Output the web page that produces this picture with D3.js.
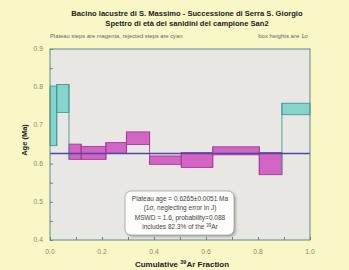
<!DOCTYPE html>
<html lang="en">
<head>
<meta charset="utf-8">
<script src="https://cdn.jsdelivr.net/npm/d3@7"></script>
<style>
  body { margin: 0; background: #f9f7c6; }
  svg { display: block; font-family: "Liberation Sans", Arial, sans-serif; }
</style>
</head>
<body>
<div id="chart"></div>
<script>
// step boundaries (cumulative 39Ar fraction) and 1 sigma box limits (Ma)
const stepEdges = [0, 0.026, 0.073, 0.120, 0.215, 0.294, 0.383, 0.505, 0.626, 0.805, 0.892, 1.0];
const ageHigh = [0.803, 0.807, 0.651, 0.645, 0.655, 0.683, 0.620, 0.629, 0.644, 0.629, 0.758];
const ageLow  = [0.647, 0.734, 0.611, 0.611, 0.627, 0.650, 0.598, 0.590, 0.623, 0.571, 0.728];
const inPlateau = [false, false, true, true, true, true, true, true, true, true, false];
const plateauAge = 0.6265;
const xTickLabels = [0, 0.2, 0.4, 0.6, 0.8, 1.0];
const yTickLabels = [0.4, 0.5, 0.6, 0.7, 0.8, 0.9];
const infoLines = [
  "Plateau age = 0.6265\u00b10.0051 Ma",
  "(1\u03c3, neglecting error in J)",
  "MSWD = 1.6, probability=0.088",
  "includes 82.3% of the "
];

const w = 349, h = 270;
const pLeft = 50, pRight = 310, pTop = 49, pBottom = 240;

const svg = d3.select("#chart").append("svg")
  .attr("width", w)
  .attr("height", h);

const x = d3.scaleLinear().domain([0, 1]).range([pLeft, pRight]);
const y = d3.scaleLinear().domain([0.4, 0.9]).range([pBottom, pTop]);

// titles
svg.append("text")
  .attr("x", 187).attr("y", 16)
  .attr("text-anchor", "middle")
  .style("font-size", "7.6px").style("font-weight", "bold").attr("fill", "#222")
  .text("Bacino lacustre di S. Massimo - Successione di Serra S. Giorgio");
svg.append("text")
  .attr("x", 187).attr("y", 26)
  .attr("text-anchor", "middle")
  .style("font-size", "7.6px").style("font-weight", "bold").attr("fill", "#222")
  .text("Spettro di età dei sanidini del campione San2");
svg.append("text")
  .attr("x", 50).attr("y", 38)
  .style("font-size", "5.8px").attr("fill", "#666")
  .text("Plateau steps are magenta, rejected steps are cyan");
svg.append("text")
  .attr("x", 308).attr("y", 38)
  .attr("text-anchor", "end")
  .style("font-size", "6px").attr("fill", "#666")
  .text("box heights are 1\u03c3");

// plot area
svg.append("rect")
  .attr("x", pLeft).attr("y", pTop)
  .attr("width", pRight - pLeft).attr("height", pBottom - pTop)
  .attr("fill", "#e9e7e3");

// axes with inward ticks
const xAxis = d3.axisTop(x)
  .tickValues(d3.range(0, 1.0001, 0.1))
  .tickSize(3).tickFormat("");
svg.append("g")
  .attr("transform", "translate(0," + pBottom + ")")
  .call(xAxis)
  .call(g => g.select(".domain").remove())
  .selectAll("line").attr("stroke", "#5a8a8a");

const yAxis = d3.axisRight(y)
  .tickValues(d3.range(0.4, 0.9001, 0.05))
  .tickSize(3).tickFormat("");
svg.append("g")
  .attr("transform", "translate(" + pLeft + ",0)")
  .call(yAxis)
  .call(g => g.select(".domain").remove())
  .selectAll("line").attr("stroke", "#5a8a8a");

svg.selectAll(".xlab")
  .data(xTickLabels)
  .enter().append("text")
  .attr("x", d => x(d)).attr("y", 254)
  .attr("text-anchor", "middle")
  .style("font-size", "6.8px").attr("fill", "#8a8a6a")
  .text(d => d3.format(".1f")(d));

svg.selectAll(".ylab")
  .data(yTickLabels)
  .enter().append("text")
  .attr("x", 43).attr("y", d => y(d) + 2)
  .attr("text-anchor", "end")
  .style("font-size", "6.8px").attr("fill", "#8a8a6a")
  .text(d => d3.format(".1f")(d));

// steps
const steps = ageHigh.map((hi, i) => ({
  x0: stepEdges[i], x1: stepEdges[i + 1], hi: hi, lo: ageLow[i], plateau: inPlateau[i]
}));

svg.selectAll(".step")
  .data(steps)
  .enter().append("rect")
  .attr("x", d => x(d.x0))
  .attr("y", d => y(d.hi))
  .attr("width", d => x(d.x1) - x(d.x0))
  .attr("height", d => y(d.lo) - y(d.hi))
  .attr("fill", d => d.plateau ? "#d264c4" : "#86d4cc")
  .attr("stroke", d => d.plateau ? "#a83a98" : "#3f9a98")
  .attr("stroke-width", 0.9);

// vertical connectors between neighbouring steps
const joins = steps.slice(1).map((d, i) => ({
  xv: d.x0,
  lo: Math.min(d.lo, steps[i].lo),
  hi: Math.max(d.hi, steps[i].hi),
  cyan: !d.plateau || !steps[i].plateau
}));
svg.selectAll(".join")
  .data(joins)
  .enter().append("line")
  .attr("x1", d => x(d.xv)).attr("x2", d => x(d.xv))
  .attr("y1", d => y(d.hi)).attr("y2", d => y(d.lo))
  .attr("stroke", d => d.cyan ? "#3f9a98" : "#a83a98")
  .attr("stroke-width", 0.9);

// plateau age line
svg.append("line")
  .attr("x1", pLeft).attr("x2", pRight)
  .attr("y1", y(plateauAge)).attr("y2", y(plateauAge))
  .attr("stroke", "#4a4aa8").attr("stroke-width", 1.3);

// border
svg.append("rect")
  .attr("x", pLeft).attr("y", pTop)
  .attr("width", pRight - pLeft).attr("height", pBottom - pTop)
  .attr("fill", "none").attr("stroke", "#5a8a8a").attr("stroke-width", 1);

// info box
const defs = svg.append("defs");
const f = defs.append("filter").attr("id", "sh").attr("x", "-20%").attr("y", "-20%").attr("width", "140%").attr("height", "140%");
f.append("feDropShadow").attr("dx", 1.5).attr("dy", 1.5).attr("stdDeviation", 1.2).attr("flood-color", "#777").attr("flood-opacity", 0.6);

svg.append("rect")
  .attr("x", 125).attr("y", 191)
  .attr("width", 109).attr("height", 44)
  .attr("rx", 6)
  .attr("fill", "#fdfdfb").attr("stroke", "#999").attr("stroke-width", 0.7)
  .attr("filter", "url(#sh)");

infoLines.forEach((t, i) => {
  const tx = svg.append("text")
    .attr("x", 180).attr("y", 201 + i * 9.4)
    .attr("text-anchor", "middle")
    .style("font-size", "6.5px").attr("fill", "#444");
  tx.append("tspan").text(t);
  if (i === 3) {
    tx.append("tspan").attr("dy", -2.2).style("font-size", "4.5px").text("39");
    tx.append("tspan").attr("dy", 2.2).text("Ar");
  }
});

// axis titles
svg.append("text")
  .attr("transform", "translate(27,140) rotate(-90)")
  .attr("text-anchor", "middle")
  .style("font-size", "7.5px").style("font-weight", "bold").attr("fill", "#222")
  .text("Age (Ma)");

const xt = svg.append("text")
  .attr("x", 182).attr("y", 267)
  .attr("text-anchor", "middle")
  .style("font-size", "8px").style("font-weight", "bold").attr("fill", "#222");
xt.append("tspan").text("Cumulative ");
xt.append("tspan").attr("dy", -3).style("font-size", "5.5px").text("39");
xt.append("tspan").attr("dy", 3).text("Ar Fraction");
</script>
</body>
</html>
